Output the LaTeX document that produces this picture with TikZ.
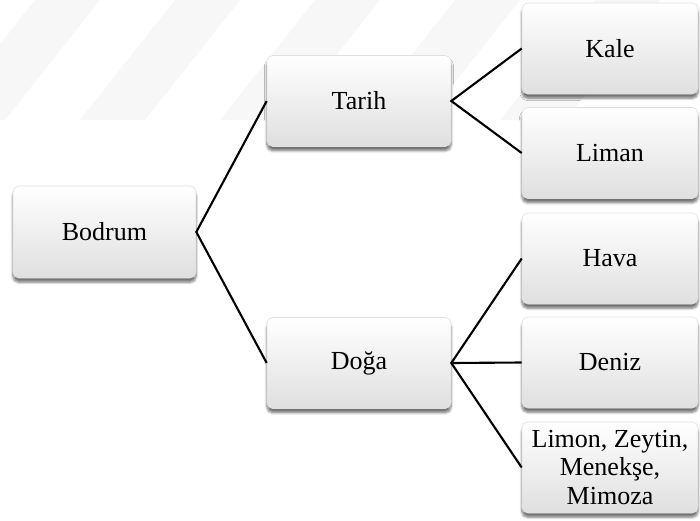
\documentclass[tikz,border=0pt]{standalone}
\usepackage{fontspec}
\newfontfamily\boxfont{LiberationSerif-Regular.ttf}
\usetikzlibrary{shadows.blur}
\tikzset{
    topic-box/.style = {rectangle, rounded corners=4pt, draw=gray!25, top color=white, bottom color=gray!25, blur shadow={shadow xshift=0pt, shadow yshift=-3pt, shadow opacity=55, shadow blur steps=6}, align=center, font=\boxfont\fontsize{18.5}{20.5}\selectfont, inner sep=2pt},
    mid-box/.style = {topic-box, minimum width=4.6cm, minimum height=2.275cm},
    leaf-box/.style = {topic-box, minimum width=4.4cm, minimum height=2.275cm},
    branch/.style = {draw=black, line width=1.5pt},
    watermark/.style = {fill=gray!6, draw=none},
}

\begin{document}
\begin{tikzpicture}[x=0.025cm, y=-0.025cm]
\useasboundingbox (0,0) rectangle (700,521);
% faint stripes at the top
\foreach \bx in {-60,80,220,360,500} {
    \fill[watermark] (\bx,120) -- ++(65,0) -- ++(95,-120) -- ++(-65,0) -- cycle;
}

\node[topic-box, minimum width=4.575cm, minimum height=2.3cm] (bodrum) at (104.5,232) {Bodrum};
\node[mid-box] (tarih) at (359,101) {Tarih};
\node[mid-box] (doga) at (359,363) {Doğa};

\node[leaf-box] (kale) at (610,48.5) {Kale};
\node[leaf-box] (liman) at (610,153) {Liman};
\node[leaf-box] (hava) at (610,258.5) {Hava};
\node[leaf-box] (deniz) at (610,362.5) {Deniz};
\node[leaf-box] (limon) at (610,467.5) {Limon, Zeytin,\\Menekşe,\\Mimoza};

\draw[branch] (tarih.west) -- (bodrum.east) -- (doga.west);
\draw[branch] (kale.west) -- (tarih.east) -- (liman.west);
\draw[branch] (hava.west) -- (doga.east) -- (limon.west);
\draw[branch] (doga.east) -- (deniz.west);
\end{tikzpicture}
\end{document}
